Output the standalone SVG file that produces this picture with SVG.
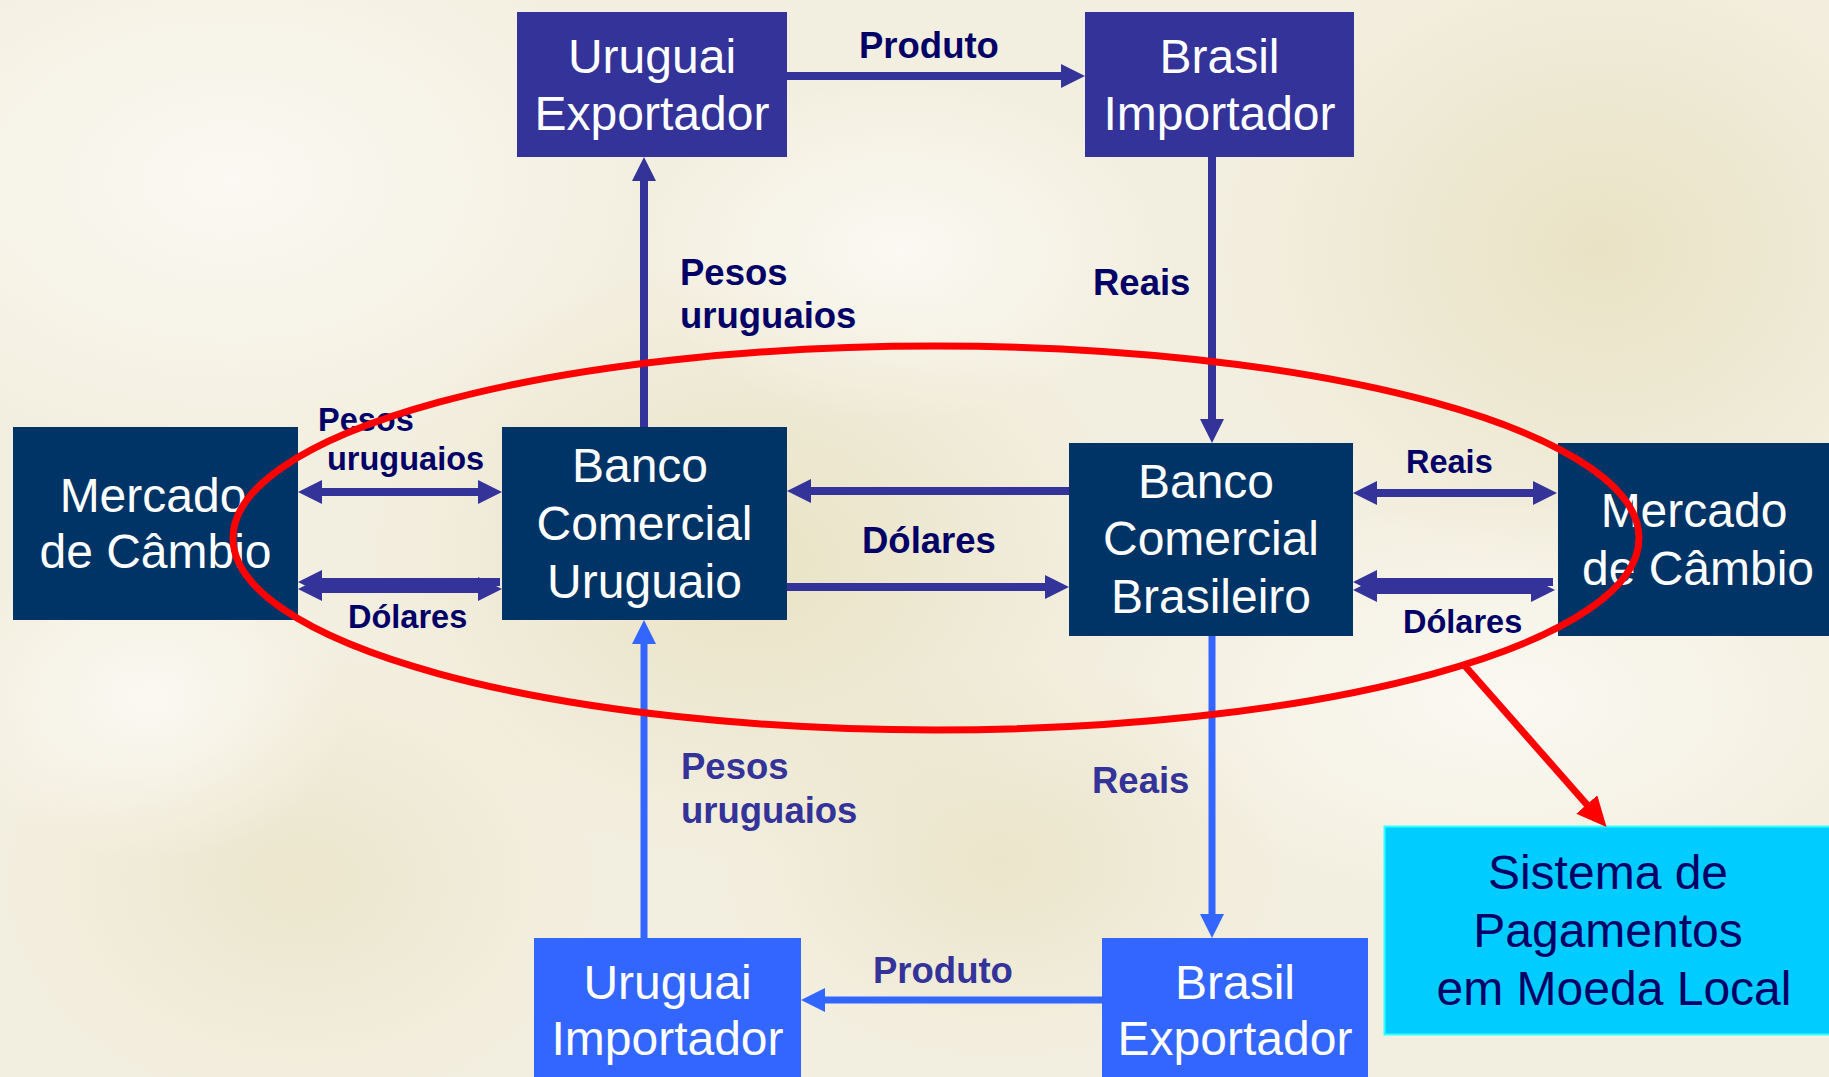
<svg xmlns="http://www.w3.org/2000/svg" width="1829" height="1077" viewBox="0 0 1829 1077">
<defs>
<style>
.bx{font-family:"Liberation Sans",Arial,sans-serif;font-size:48px;fill:#ffffff;text-anchor:middle}
.lb{font-family:"Liberation Sans",Arial,sans-serif;font-weight:bold;font-size:36.5px;fill:#000066}
.ls{font-size:32.5px}
.lb2{fill:#333399}
.c1{stroke:#333399;stroke-width:8;fill:none}
.c2{stroke:#3366FF;stroke-width:7;fill:none}
</style>
<marker id="a1" markerUnits="userSpaceOnUse" markerWidth="24" markerHeight="24" refX="12" refY="12" orient="auto-start-reverse"><path d="M0,0 L24,12 L0,24 z" fill="#333399"/></marker>
<marker id="a2" markerUnits="userSpaceOnUse" markerWidth="24" markerHeight="24" refX="12" refY="12" orient="auto-start-reverse"><path d="M0,0 L24,12 L0,24 z" fill="#3366FF"/></marker>
<marker id="a3" markerUnits="userSpaceOnUse" markerWidth="30" markerHeight="28" refX="14" refY="14" orient="auto"><path d="M0,0 L30,14 L0,28 z" fill="#FF0000"/></marker>
<radialGradient id="g1" cx="0.5" cy="0.5" r="0.5"><stop offset="0" stop-color="#E6DEBC" stop-opacity="0.75"/><stop offset="1" stop-color="#E6DEBC" stop-opacity="0"/></radialGradient>
<radialGradient id="g2" cx="0.5" cy="0.5" r="0.5"><stop offset="0" stop-color="#FBF9F3" stop-opacity="0.95"/><stop offset="1" stop-color="#FBF9F3" stop-opacity="0"/></radialGradient>
</defs>
<g id="background">
<rect x="0" y="0" width="1829" height="1077" fill="#F3EFE0"/>
<ellipse cx="1600" cy="250" rx="380" ry="330" fill="url(#g1)"/>
<ellipse cx="750" cy="560" rx="380" ry="300" fill="url(#g1)"/>
<ellipse cx="300" cy="880" rx="300" ry="230" fill="url(#g1)" opacity="0.7"/>
<ellipse cx="1000" cy="860" rx="280" ry="200" fill="url(#g1)" opacity="0.8"/>
<ellipse cx="230" cy="180" rx="420" ry="280" fill="url(#g2)"/>
<ellipse cx="1500" cy="700" rx="380" ry="200" fill="url(#g2)"/>
<ellipse cx="900" cy="250" rx="260" ry="170" fill="url(#g2)"/>
<ellipse cx="150" cy="700" rx="200" ry="160" fill="url(#g2)"/>
</g>
<g id="connectors">
<line class="c1" x1="787" y1="76" x2="1073" y2="76" marker-end="url(#a1)"/>
<line class="c1" x1="644" y1="427" x2="644" y2="169" marker-end="url(#a1)"/>
<line class="c1" x1="1212" y1="157" x2="1212" y2="431" marker-end="url(#a1)"/>
<line class="c1" x1="1069" y1="491" x2="799" y2="491" marker-end="url(#a1)"/>
<line class="c1" x1="787" y1="587" x2="1057" y2="587" marker-end="url(#a1)"/>
<line class="c1" x1="310" y1="492" x2="490" y2="492" marker-start="url(#a1)" marker-end="url(#a1)"/>
<line class="c1" x1="500" y1="582" x2="310" y2="582" marker-end="url(#a1)"/>
<line class="c1" x1="310" y1="589" x2="490" y2="589" marker-start="url(#a1)" marker-end="url(#a1)"/>
<line class="c1" x1="1365" y1="493" x2="1545" y2="493" marker-start="url(#a1)" marker-end="url(#a1)"/>
<line class="c1" x1="1553" y1="582" x2="1365" y2="582" marker-end="url(#a1)"/>
<line class="c1" x1="1365" y1="590" x2="1543" y2="590" marker-start="url(#a1)" marker-end="url(#a1)"/>
<line class="c2" x1="644" y1="938" x2="644" y2="632" marker-end="url(#a2)"/>
<line class="c2" x1="1212" y1="636" x2="1212" y2="926" marker-end="url(#a2)"/>
<line class="c2" x1="1102" y1="1000" x2="813" y2="1000" marker-end="url(#a2)"/>
</g>
<g id="uruguai-exportador">
<rect x="517" y="12" width="270" height="145" fill="#333399"/>
<text class="bx" x="652" y="73">Uruguai<tspan x="652" y="130">Exportador</tspan></text>
</g>
<g id="brasil-importador">
<rect x="1085" y="12" width="269" height="145" fill="#333399"/>
<text class="bx" x="1219.5" y="73">Brasil<tspan x="1219.5" y="130">Importador</tspan></text>
</g>
<g id="mercado-cambio-esq">
<rect x="13" y="427" width="285" height="193" fill="#003366"/>
<text class="bx" x="153" y="512">Mercado<tspan x="155.5" y="568">de Câmbio</tspan></text>
</g>
<g id="banco-uruguaio">
<rect x="502" y="427" width="285" height="193" fill="#003366"/>
<text class="bx" x="640" y="482">Banco<tspan x="644.5" y="540">Comercial</tspan><tspan x="644.5" y="598">Uruguaio</tspan></text>
</g>
<g id="banco-brasileiro">
<rect x="1069" y="443" width="284" height="193" fill="#003366"/>
<text class="bx" x="1206" y="498">Banco<tspan x="1211" y="555">Comercial</tspan><tspan x="1211" y="613">Brasileiro</tspan></text>
</g>
<g id="mercado-cambio-dir">
<rect x="1558" y="443" width="274" height="193" fill="#003366"/>
<text class="bx" x="1694" y="527">Mercado<tspan x="1698" y="585">de Câmbio</tspan></text>
</g>
<g id="uruguai-importador">
<rect x="534" y="938" width="267" height="145" fill="#3366FF"/>
<text class="bx" x="667.5" y="999">Uruguai<tspan x="667.5" y="1055">Importador</tspan></text>
</g>
<g id="brasil-exportador">
<rect x="1102" y="938" width="266" height="145" fill="#3366FF"/>
<text class="bx" x="1235" y="999">Brasil<tspan x="1235" y="1055">Exportador</tspan></text>
</g>
<g id="sistema-pagamentos">
<rect x="1384.5" y="826.5" width="450" height="208" fill="#00CCFF" stroke="#33FFFF" stroke-width="2"/>
<text class="bx" style="fill:#000066;font-size:48px" x="1608" y="889">Sistema de<tspan x="1608" y="947">Pagamentos</tspan><tspan x="1614" y="1005">em Moeda Local</tspan></text>
</g>
<g id="labels">
<text class="lb" x="859" y="58">Produto</text>
<text class="lb" x="680" y="285">Pesos<tspan x="680" y="328">uruguaios</tspan></text>
<text class="lb" x="1093" y="295">Reais</text>
<text class="lb ls" x="318" y="431">Pesos<tspan x="327" y="470">uruguaios</tspan></text>
<text class="lb ls" x="348" y="628">Dólares</text>
<text class="lb" x="862" y="553">Dólares</text>
<text class="lb ls" x="1406" y="473">Reais</text>
<text class="lb ls" x="1403" y="633">Dólares</text>
<text class="lb lb2" x="681" y="779">Pesos<tspan x="681" y="823">uruguaios</tspan></text>
<text class="lb lb2" x="1092" y="793">Reais</text>
<text class="lb lb2" x="873" y="983">Produto</text>
</g>
<g id="destaque">
<ellipse cx="936" cy="538" rx="703" ry="192" fill="none" stroke="#FF0000" stroke-width="7"/>
<line x1="1465" y1="666" x2="1596" y2="815" stroke="#FF0000" stroke-width="7" marker-end="url(#a3)"/>
</g>
</svg>
